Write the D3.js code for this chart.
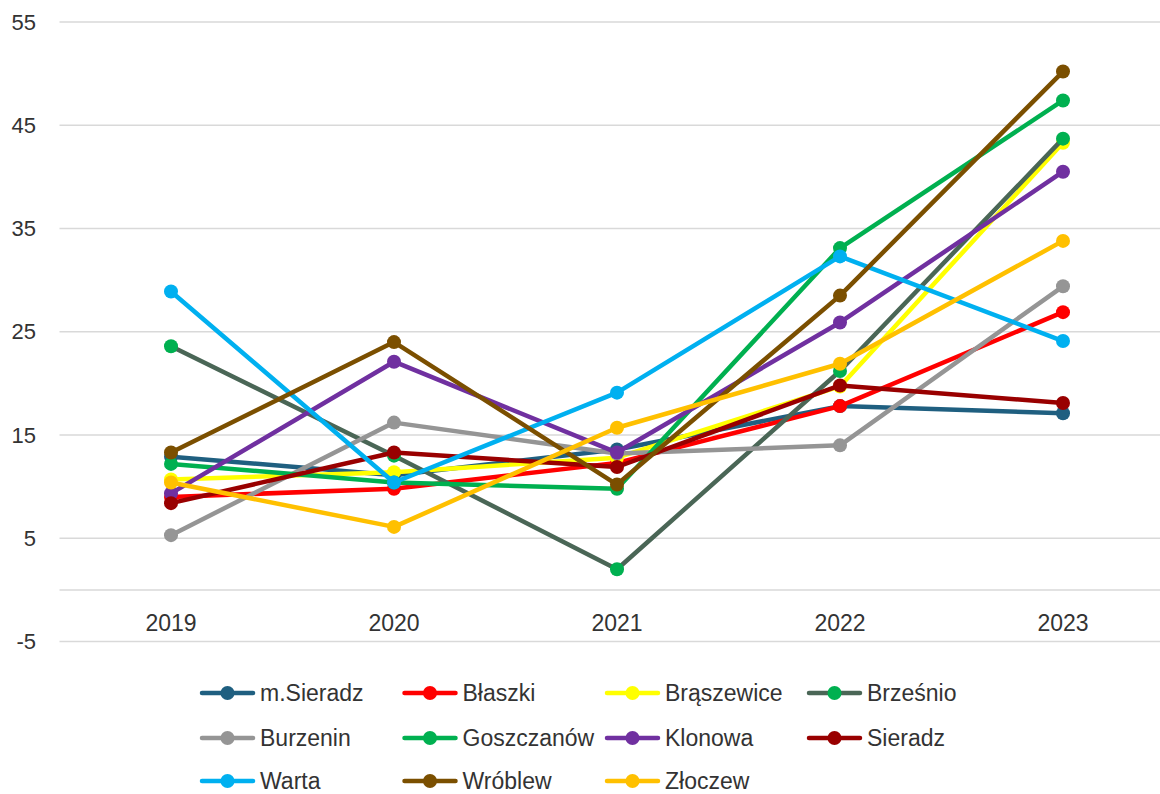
<!DOCTYPE html>
<html>
<head>
<meta charset="utf-8">
<script src="https://cdn.jsdelivr.net/npm/d3@7"></script>
<style>
  html, body { margin: 0; padding: 0; background: #fff; }
  svg { display: block; font-family: "Liberation Sans", Arial, sans-serif; }
</style>
</head>
<body>
<svg id="chart" width="1160" height="794"></svg>
<script>
// Years on the category axis
const years = ["2019", "2020", "2021", "2022", "2023"];

// Y-axis tick values
const yTicks = [-5, 5, 15, 25, 35, 45, 55];

// Series, one array per municipality (2019..2023)
const mSieradz   = [12.9, 11.1, 13.6, 17.8, 17.1];
const blaszki    = [9.0, 9.8, 12.3, 17.8, 26.9];
const braszewice = [10.7, 11.4, 12.8, 19.7, 43.3];
const brzeznio   = [23.6, 13.0, 2.0, 21.2, 43.7];
const burzenin   = [5.3, 16.2, 13.2, 14.0, 29.4];
const goszczanow = [12.2, 10.4, 9.8, 33.1, 47.4];
const klonowa    = [9.35, 22.1, 13.3, 25.9, 40.5];
const sieradz    = [8.4, 13.3, 11.9, 19.8, 18.1];
const warta      = [28.9, 10.4, 19.1, 32.3, 24.1];
const wroblew    = [13.3, 24.0, 10.2, 28.5, 50.2];
const zloczew    = [10.4, 6.1, 15.7, 21.9, 33.8];

const seriesNames = ["m.Sieradz", "Błaszki", "Brąszewice", "Brześnio", "Burzenin",
  "Goszczanów", "Klonowa", "Sieradz", "Warta", "Wróblew", "Złoczew"];
const seriesValues = [mSieradz, blaszki, braszewice, brzeznio, burzenin,
  goszczanow, klonowa, sieradz, warta, wroblew, zloczew];
const lineColors = ["#1f5f80", "#ff0000", "#ffff00", "#4a6656", "#959595",
  "#00b050", "#7030a0", "#990000", "#00b0f0", "#7b4f00", "#ffc000"];
const markerColors = ["#1f5f80", "#ff0000", "#ffff00", "#00b050", "#959595",
  "#00b050", "#7030a0", "#990000", "#00b0f0", "#7b4f00", "#ffc000"];

const series = seriesNames.map((name, i) => ({
  name, values: seriesValues[i], line: lineColors[i], marker: markerColors[i]
}));

const svg = d3.select("#chart");
const plot = { left: 59.5, right: 1174.5, top: 22, bottom: 641.5 };
const font = "Liberation Sans, Arial, sans-serif";

const x = d3.scaleBand().domain(years).range([plot.left, plot.right]);
const y = d3.scaleLinear().domain([-5, 55]).range([plot.bottom, plot.top]);
const cx = d => x(d) + x.bandwidth() / 2;

// Horizontal gridlines
svg.append("g")
  .selectAll("line")
  .data(yTicks)
  .join("line")
  .attr("x1", plot.left).attr("x2", plot.right)
  .attr("y1", d => y(d)).attr("y2", d => y(d))
  .attr("stroke", "#d9d9d9").attr("stroke-width", 1.5);

// Zero line used as the category axis
svg.append("line")
  .attr("x1", plot.left).attr("x2", plot.right)
  .attr("y1", y(0)).attr("y2", y(0))
  .attr("stroke", "#d9d9d9").attr("stroke-width", 1.5);

// Y tick labels (plain hyphen for negatives)
const yAxis = d3.axisLeft(y).tickValues(yTicks).tickSize(0).tickPadding(0)
  .tickFormat(d => String(d));
const gy = svg.append("g").attr("transform", "translate(36,0)").call(yAxis);
gy.select(".domain").remove();
gy.selectAll("text")
  .attr("font-size", 22).attr("fill", "#333")
  .attr("font-family", font);

// Category labels under the zero line
const xAxis = d3.axisBottom(x).tickSize(0).tickPadding(0);
const gx = svg.append("g").attr("transform", `translate(0,${y(0) + 33})`).call(xAxis);
gx.select(".domain").remove();
gx.selectAll("text")
  .attr("y", 0).attr("dy", "0.35em")
  .attr("font-size", 23).attr("fill", "#333")
  .attr("font-family", font);

// Lines and markers
const line = d3.line().x((d, i) => cx(years[i])).y(d => y(d));
const gSeries = svg.append("g")
  .selectAll("g")
  .data(series)
  .join("g");

gSeries.append("path")
  .attr("d", d => line(d.values))
  .attr("fill", "none")
  .attr("stroke", d => d.line)
  .attr("stroke-width", 4.5)
  .attr("stroke-linejoin", "round")
  .attr("stroke-linecap", "round");

gSeries.selectAll("circle")
  .data(d => d.values.map((v, i) => ({ v, i, c: d.marker })))
  .join("circle")
  .attr("cx", d => cx(years[d.i]))
  .attr("cy", d => y(d.v))
  .attr("r", 7)
  .attr("fill", d => d.c);

// Legend: 4 columns, 3 rows
const legendX = [200, 402.5, 605, 807];
const legendY = [693, 738, 781];
const legend = svg.append("g")
  .selectAll("g")
  .data(series)
  .join("g")
  .attr("transform", (d, i) => `translate(${legendX[i % 4]},${legendY[Math.floor(i / 4)]})`);

legend.append("line")
  .attr("x1", 2).attr("x2", 53).attr("y1", 0).attr("y2", 0)
  .attr("stroke", d => d.line).attr("stroke-width", 4.5)
  .attr("stroke-linecap", "round");
legend.append("circle")
  .attr("cx", 27.5).attr("cy", 0).attr("r", 7)
  .attr("fill", d => d.marker);
legend.append("text")
  .attr("x", 60).attr("y", 0).attr("dy", "0.35em")
  .attr("font-size", 23).attr("fill", "#333")
  .text(d => d.name);
</script>
</body>
</html>
